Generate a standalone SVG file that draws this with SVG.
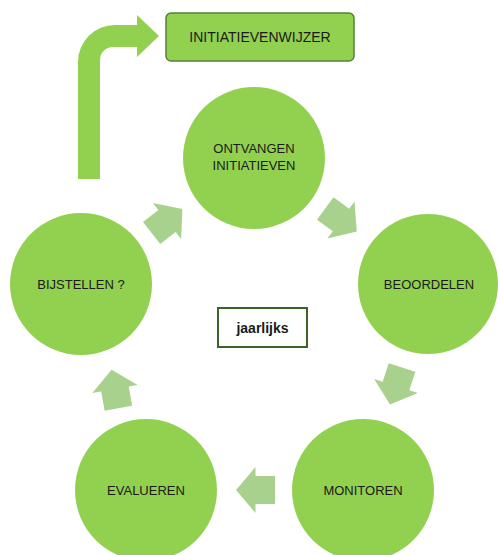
<svg xmlns="http://www.w3.org/2000/svg" width="498" height="555" viewBox="0 0 498 555">
<style>
.c{fill:#92d050}
.t{font-family:"Liberation Sans",Arial,sans-serif;font-size:13px;fill:#1a1a1a;text-anchor:middle}
.ar{fill:#a9d18e}
</style>
<defs>
<path id="blk" d="M-19.5,-14 L0,-14 L0,-23 L19.5,0 L0,23 L0,14 L-19.5,14 Z"/>
</defs>
<rect width="498" height="555" fill="#ffffff"/>
<g id="connectors">
<path id="bent" fill="#92d050" d="M78,179 L78,62 A37,37 0 0 1 115,25 L137,25 L137,15 L159,36 L137,57 L137,47 L113,47 A13,13 0 0 0 100,60 L100,179 Z"/>
<use href="#blk" class="ar" transform="translate(167,221) rotate(-38)"/>
<use href="#blk" class="ar" transform="translate(341,220) rotate(36)"/>
<use href="#blk" class="ar" transform="translate(396,386) rotate(108)"/>
<use href="#blk" class="ar" transform="translate(255.5,490) rotate(180)"/>
<use href="#blk" class="ar" transform="translate(115,389) rotate(-100)"/>
</g>
<g id="initiatievenwijzer">
<rect x="166" y="13" width="188" height="48" rx="5" fill="#92d050" stroke="#548235" stroke-width="1.5"/>
<text class="t" x="260" y="42" style="font-size:14px">INITIATIEVENWIJZER</text>
</g>
<g id="ontvangen">
<circle class="c" cx="254" cy="158" r="71"/>
<text class="t" x="254" y="153">ONTVANGEN</text>
<text class="t" x="254" y="170">INITIATIEVEN</text>
</g>
<g id="beoordelen">
<circle class="c" cx="428" cy="284" r="70"/>
<text class="t" x="429" y="289">BEOORDELEN</text>
</g>
<g id="monitoren">
<circle class="c" cx="363" cy="490" r="71"/>
<text class="t" x="363" y="495">MONITOREN</text>
</g>
<g id="evalueren">
<circle class="c" cx="146" cy="490" r="71"/>
<text class="t" x="146" y="495">EVALUEREN</text>
</g>
<g id="bijstellen">
<circle class="c" cx="81" cy="284" r="71"/>
<text class="t" x="81" y="289">BIJSTELLEN ?</text>
</g>
<g id="jaarlijks">
<rect x="218" y="308" width="89" height="39" fill="#ffffff" stroke="#3b6426" stroke-width="2"/>
<text class="t" x="262.5" y="333" style="font-size:14px;font-weight:bold">jaarlijks</text>
</g>
</svg>
